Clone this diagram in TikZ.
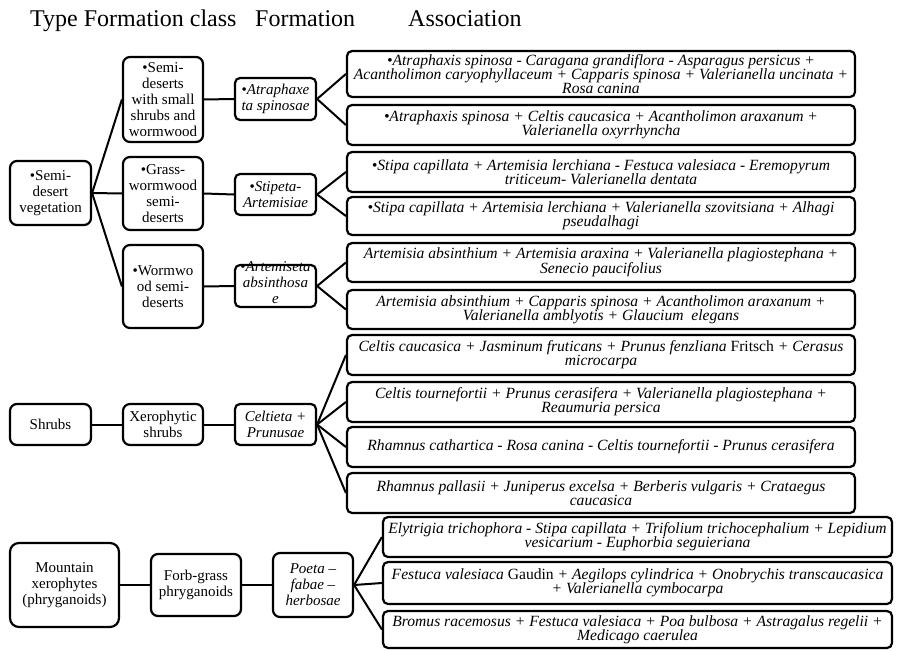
\documentclass[tikz,border=0pt]{standalone}
\usepackage{fontspec}
\setmainfont{Liberation Serif}
\tikzset{
	vegbox/.style={draw, line width=2.2pt, rounded corners=7pt, align=center, inner sep=1pt, font=\fontsize{15}{16}\selectfont},
	assocbox/.style={draw, line width=2.2pt, rounded corners=5pt, align=center, inner sep=1pt, minimum width=508pt, font=\fontsize{15.6}{14.2}\selectfont\itshape},
	link/.style={line width=2pt},
	colhead/.style={anchor=base west, inner sep=0pt, font=\fontsize{24}{26}\selectfont}
}
\begin{document}
\begin{tikzpicture}[x=1pt,y=-1pt]
	\useasboundingbox (0,0) rectangle (904,650);
	\node[colhead] (headtype) at (30,27) {Type Formation class};
	\node[colhead] (headform) at (255,27) {Formation};
	\node[colhead] (headassoc) at (408,27) {Association};
	% semi-desert vegetation
	\node[vegbox, minimum width=81pt, minimum height=64pt] (semidesert) at (50.5,193) {•Semi-\\desert\\vegetation};
	\node[vegbox, minimum width=80pt, minimum height=85pt] (smallshrubs) at (163,99.5) {•Semi-\\deserts\\with small\\shrubs and\\wormwood};
	\node[vegbox, minimum width=80pt, minimum height=73pt] (grassworm) at (163,193.5) {•Grass-\\wormwood\\semi-\\deserts};
	\node[vegbox, minimum width=80pt, minimum height=83pt] (wormwood) at (163,286.5) {•Wormwo\\od semi-\\deserts};
	\node[vegbox, rounded corners=5pt, minimum width=81pt, minimum height=42pt] (atraphaxeta) at (275.5,99) {•\textit{Atraphaxe}\\\textit{ta spinosae}};
	\node[vegbox, rounded corners=5pt, minimum width=81pt, minimum height=41pt] (stipeta) at (275.5,194.5) {•\textit{Stipeta-}\\\textit{Artemisiae}};
	\node[vegbox, rounded corners=5pt, minimum width=81pt, minimum height=42pt] (artemiseta) at (275.5,286) {\smash{\parbox[c]{78pt}{\centering •\textit{Artemiseta}\\\textit{absinthosa}\\\textit{e}}}};
	\node[assocbox, minimum height=46pt] (atr1) at (601,74) {•Atraphaxis spinosa - Caragana grandiflora - Asparagus persicus +\\Acantholimon caryophyllaceum + Capparis spinosa + Valerianella uncinata +\\Rosa canina};
	\node[assocbox, minimum height=40pt] (atr2) at (601,125) {•Atraphaxis spinosa + Celtis caucasica + Acantholimon araxanum +\\Valerianella oxyrrhyncha};
	\node[assocbox, minimum height=40pt] (sti1) at (601,172) {•Stipa capillata + Artemisia lerchiana - Festuca valesiaca - Eremopyrum\\triticeum- Valerianella dentata};
	\node[assocbox, minimum height=38pt] (sti2) at (601,216) {•Stipa capillata + Artemisia lerchiana + Valerianella szovitsiana + Alhagi\\pseudalhagi};
	\node[assocbox, minimum height=39pt] (art1) at (601,262.5) {Artemisia absinthium + Artemisia araxina + Valerianella plagiostephana +\\Senecio paucifolius};
	\node[assocbox, minimum height=39pt] (art2) at (601,309.5) {Artemisia absinthium + Capparis spinosa + Acantholimon araxanum +\\Valerianella amblyotis + Glaucium\ \ elegans};
	% shrubs
	\node[vegbox, minimum width=81pt, minimum height=41pt] (shrubs) at (50.5,424.5) {Shrubs};
	\node[vegbox, minimum width=80pt, minimum height=41pt] (xerophytic) at (163,424.5) {Xerophytic\\shrubs};
	\node[vegbox, rounded corners=5pt, minimum width=81pt, minimum height=41pt] (celtieta) at (275.5,424.5) {\textit{Celtieta +}\\\textit{Prunusae}};
	\node[assocbox, minimum height=40pt] (cel1) at (601,355) {Celtis caucasica + Jasminum fruticans + Prunus fenzliana \textup{Fritsch} + Cerasus\\microcarpa};
	\node[assocbox, minimum height=40pt] (cel2) at (601,402) {Celtis tournefortii + Prunus cerasifera + Valerianella plagiostephana +\\Reaumuria persica};
	\node[assocbox, minimum height=40pt] (cel3) at (601,447) {Rhamnus cathartica - Rosa canina - Celtis tournefortii - Prunus cerasifera};
	\node[assocbox, minimum height=40pt] (cel4) at (601,493) {Rhamnus pallasii + Juniperus excelsa + Berberis vulgaris + Crataegus\\caucasica};
	% mountain xerophytes
	\node[vegbox, rounded corners=9pt, minimum width=109pt, minimum height=84pt] (mountain) at (64.5,585) {Mountain\\xerophytes\\(phryganoids)};
	\node[vegbox, minimum width=90pt, minimum height=62pt] (forbgrass) at (196,585) {Forb-grass\\phryganoids};
	\node[vegbox, minimum width=80pt, minimum height=64pt] (poeta) at (313,585) {\textit{Poeta –}\\\textit{fabae –}\\\textit{herbosae}};
	\node[assocbox, minimum width=509pt, minimum height=40pt] (poe1) at (637.5,537) {Elytrigia trichophora - Stipa capillata + Trifolium trichocephalium + Lepidium\\vesicarium - Euphorbia seguieriana};
	\node[assocbox, minimum width=509pt, minimum height=42pt] (poe2) at (637.5,583) {Festuca valesiaca \textup{Gaudin} + Aegilops cylindrica + Onobrychis transcaucasica\\+ Valerianella cymbocarpa};
	\node[assocbox, minimum width=509pt, minimum height=37pt] (poe3) at (637.5,629.5) {Bromus racemosus + Festuca valesiaca + Poa bulbosa + Astragalus regelii +\\Medicago caerulea};
	% connectors
	\foreach \c in {smallshrubs,grassworm,wormwood}
		\draw[link] (semidesert.east) -- (\c.west);
	\draw[link] (smallshrubs.east) -- (atraphaxeta.west);
	\draw[link] (grassworm.east) -- (stipeta.west);
	\draw[link] (wormwood.east) -- (artemiseta.west);
	\foreach \a in {atr1,atr2}
		\draw[link] (atraphaxeta.east) -- (\a.west);
	\foreach \a in {sti1,sti2}
		\draw[link] (stipeta.east) -- (\a.west);
	\foreach \a in {art1,art2}
		\draw[link] (artemiseta.east) -- (\a.west);
	\draw[link] (shrubs.east) -- (xerophytic.west);
	\draw[link] (xerophytic.east) -- (celtieta.west);
	\foreach \a in {cel1,cel2,cel3,cel4}
		\draw[link] (celtieta.east) -- (\a.west);
	\draw[link] (mountain.east) -- (forbgrass.west);
	\draw[link] (forbgrass.east) -- (poeta.west);
	\foreach \a in {poe1,poe2,poe3}
		\draw[link] (poeta.east) -- (\a.west);
\end{tikzpicture}
\end{document}
